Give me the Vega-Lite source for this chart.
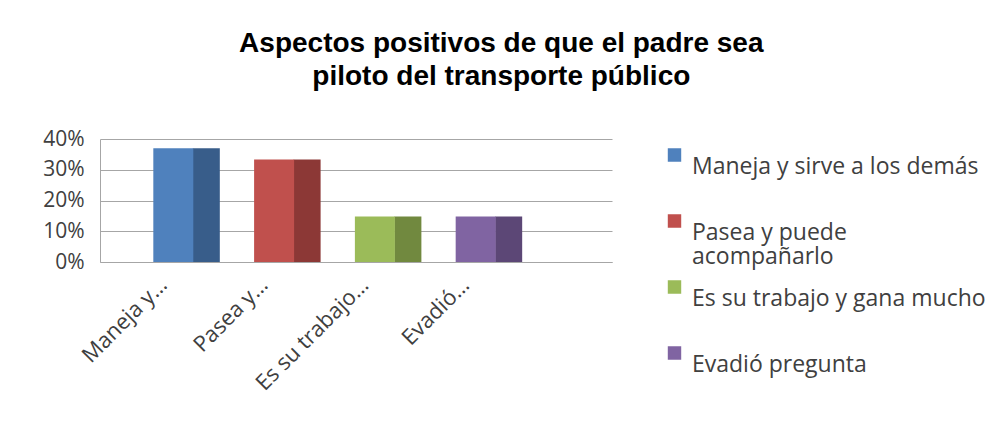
{
  "$schema": "https://vega.github.io/schema/vega-lite/v6.json",
  "width": 512,
  "height": 123,
  "autosize": {"type": "none"},
  "padding": {"left": 100, "top": 139, "right": 386, "bottom": 167},
  "background": "white",
  "config": {
    "font": "Open Sans",
    "view": {"stroke": null}
  },
  "title": {
    "text": ["Aspectos positivos de que el padre sea", "piloto del transporte público"],
    "frame": "bounds",
    "anchor": "middle",
    "font": "Liberation Sans",
    "fontSize": 28,
    "fontWeight": "bold",
    "color": "#000000",
    "lineHeight": 33,
    "offset": 37,
    "dx": -13
  },
  "data": {
    "values": [
      {"item": "Maneja y sirve a los demás", "value": 0.37},
      {"item": "Pasea y puede acompañarlo", "value": 0.333},
      {"item": "Es su trabajo y gana mucho", "value": 0.148},
      {"item": "Evadió pregunta", "value": 0.148}
    ]
  },
  "encoding": {
    "x": {
      "field": "item",
      "type": "nominal",
      "sort": null,
      "scale": {"paddingInner": 0, "paddingOuter": 0.54, "align": 0.33},
      "axis": {
        "title": null,
        "labelAngle": -45,
        "labelFontSize": 22,
        "labelColor": "#404040",
        "ticks": false,
        "domain": true,
        "domainColor": "#a6a6a6",
        "labelPadding": 12,
        "labelOffset": -30,
        "labelExpr": "datum.label == 'Maneja y sirve a los demás' ? 'Maneja y…' : datum.label == 'Pasea y puede acompañarlo' ? 'Pasea y…' : datum.label == 'Es su trabajo y gana mucho' ? 'Es su trabajo…' : 'Evadió…'"
      }
    },
    "y": {
      "field": "value",
      "type": "quantitative",
      "scale": {"domain": [0, 0.4], "nice": false},
      "axis": {
        "title": null,
        "format": ".0%",
        "values": [0, 0.1, 0.2, 0.3, 0.4],
        "labelFontSize": 21,
        "labelColor": "#404040",
        "ticks": false,
        "domainColor": "#a6a6a6",
        "gridColor": "#a6a6a6",
        "labelPadding": 16
      }
    }
  },
  "layer": [
    {
      "mark": {"type": "bar", "width": 27, "xOffset": 20},
      "encoding": {
        "color": {
          "field": "item",
          "type": "nominal",
          "sort": null,
          "scale": {"range": ["#385D8A", "#8C3836", "#71893F", "#5C4776"]},
          "legend": null
        }
      }
    },
    {
      "mark": {"type": "bar", "width": 40, "xOffset": -13},
      "encoding": {
        "color": {
          "field": "item",
          "type": "nominal",
          "sort": null,
          "scale": {"range": ["#4F81BD", "#C0504D", "#9BBB59", "#8064A2"]},
          "legend": {
            "title": null,
            "orient": "none",
            "legendX": 563,
            "legendY": 2,
            "symbolType": "square",
            "symbolSize": 180,
            "symbolStrokeWidth": 0,
            "labelFontSize": 23,
            "labelColor": "#404040",
            "labelLimit": 400,
            "labelOffset": 6,
            "clipHeight": 52,
            "rowPadding": 4,
            "labelBaseline": "middle",
            "labelExpr": "datum.label == 'Pasea y puede acompañarlo' ? ['Pasea y puede', 'acompañarlo'] : [datum.label, '']",
            "encode": {
              "labels": {"update": {"lineHeight": {"value": 24}, "y": {"value": 26}}},
              "symbols": {"update": {"y": {"value": 14}}}
            }
          }
        }
      }
    }
  ],
  "resolve": {"scale": {"color": "independent"}}
}
